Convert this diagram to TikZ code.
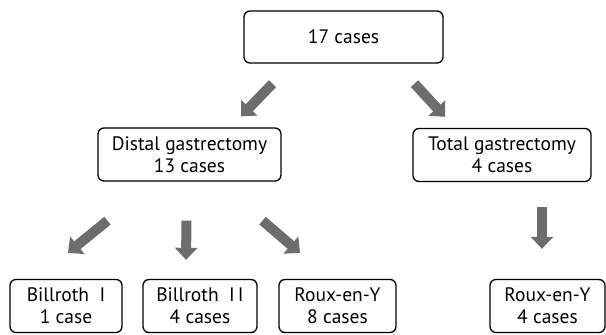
\documentclass[tikz,border=0pt]{standalone}
\usepackage{fontspec}
\setmainfont{PT Sans}
\usetikzlibrary{arrows.meta}
\definecolor{arrowgray}{HTML}{6D6D6D}
\begin{document}
\begin{tikzpicture}[x=1pt, y=-1pt,
		box/.style={draw, line width=1.3pt, rounded corners=6pt, align=center, inner sep=0pt,
			minimum height=53pt, font=\fontsize{19.5}{22}\selectfont},
		fatarrow/.style={arrowgray, line width=10pt, -{Triangle[length=12pt, width=22pt]}}]
		\useasboundingbox (0,0) rectangle (606,335);
		\node[box, minimum width=199pt, minimum height=52pt] (top) at (343.5,37) {17 cases};
		\node[box, minimum width=183pt] (distal) at (189.5,154.5) {Distal gastrectomy \\ 13 cases};
		\node[box, minimum width=178pt] (total) at (502,155) {Total gastrectomy \\ 4 cases};
		\node[box, minimum width=112pt] (billrothI) at (66,306) {Billroth~~I \\ 1 case};
		\node[box, minimum width=114pt] (billrothII) at (200,306) {Billroth~~I\,I \\ 4 cases};
		\node[box, minimum width=117pt] (rouxD) at (337.5,306) {Roux-en-Y \\ 8 cases};
		\node[box, minimum width=115pt] (rouxT) at (547.5,306) {Roux-en-Y \\ 4 cases};
		\draw[fatarrow] ([shift={(-71,20)}]top.south) -- ([shift={(51.5,-11)}]distal.north);
		\draw[fatarrow] ([shift={(71,20)}]top.south) -- ([shift={(-57,-11)}]total.north);
		\draw[fatarrow] ([shift={(-82,39)}]distal.south) -- ([shift={(2,-26)}]billrothI.north);
		\draw[fatarrow] ([shift={(-3,39)}]distal.south) -- ([shift={(-14,-19)}]billrothII.north);
		\draw[fatarrow] ([shift={(73,39)}]distal.south) -- ([shift={(-37.5,-26)}]rouxD.north);
		\draw[fatarrow] ([shift={(40,25)}]total.south) -- ([shift={(-5.5,-30)}]rouxT.north);
	\end{tikzpicture}
\end{document}
